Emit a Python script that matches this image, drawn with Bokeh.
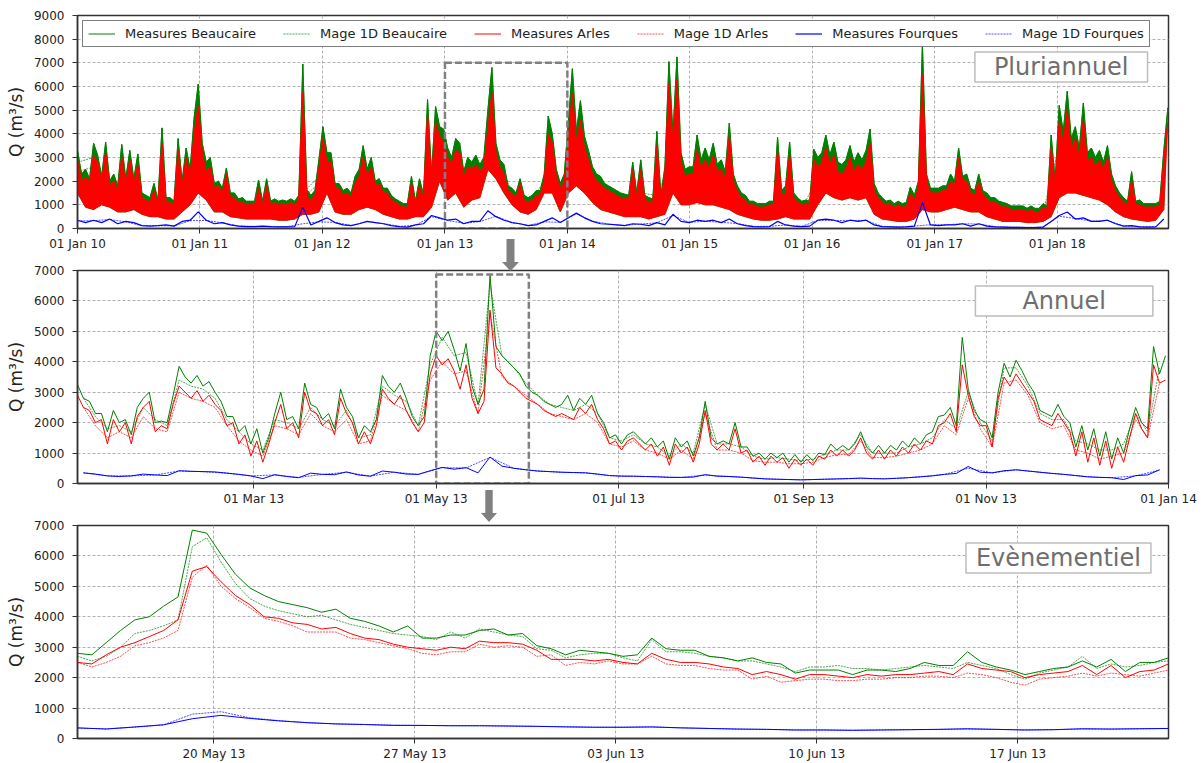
import pandas as pd
from bokeh.plotting import figure
from bokeh.layouts import column
from bokeh.models import (Range1d, FixedTicker, DatetimeTickFormatter, Legend, LegendItem,
                          Label, Div)
from bokeh.embed import file_html
from bokeh.resources import INLINE

# ---------------- Panel 1 : pluriannuel (2010-2018) ----------------
# upper envelopes of the measured discharges (12-day steps) and lower envelope (24-day steps)
p1_dates = pd.date_range("2010-01-01", periods=272, freq="12D")
p1_arles_high = [
    2900, 2000, 2200, 1900, 3100, 2800, 2000, 3200, 1800, 2000, 1600, 3000, 1900, 2900, 1900, 2700, 1300, 1200, 1100, 1600, 1000, 3600, 1100, 1100, 1000, 3300, 1800, 3000, 2200, 4000, 5200,
    3200, 2400, 2600, 1700, 1800, 1500, 2300, 1300, 1300, 1100, 1100, 1000, 1000, 1000, 1700, 1000, 1800, 1000, 1100, 1000, 1050, 1000, 1100, 1000, 1200, 5750, 1400, 1200, 1400, 2500,
    3800, 2800, 2800, 1700, 1700, 1400, 1500, 1300, 1900, 2200, 3000, 2200, 2600, 1800, 1900, 1500, 1500, 1200, 1100, 1000, 900, 900, 1900, 1000, 1800, 1200, 4800, 2000, 4500, 3900, 3700,
    3000, 2700, 3300, 3200, 2200, 2600, 2500, 2700, 2400, 2600, 4200, 5700, 3200, 2600, 2300, 1600, 1500, 1300, 1900, 1200, 1100, 1200, 1400, 1400, 2000, 4000, 3600, 2200, 1700, 2000,
    3800, 5700, 3600, 4600, 3400, 2900, 2300, 2000, 1900, 1700, 1600, 1500, 1400, 1300, 1300, 1200, 2500, 1300, 2500, 1200, 1100, 1100, 3500, 1200, 2300, 6100, 3500, 6300, 2800, 2200,
    2300, 2300, 3300, 2500, 2900, 2500, 3100, 2400, 2500, 2100, 3900, 2000, 1600, 1300, 1200, 1000, 1000, 900, 900, 900, 1000, 1000, 3300, 1400, 1500, 3100, 1300, 1100, 1000, 1000, 1000,
    2900, 2600, 2800, 3400, 2700, 3100, 2400, 2300, 2500, 3000, 2400, 2700, 2500, 2800, 3600, 1600, 1300, 1100, 1000, 1000, 900, 1000, 900, 900, 1500, 1200, 1700, 6500, 2000, 1500, 1500,
    1500, 1600, 1600, 2000, 1800, 3000, 2000, 2000, 1500, 1400, 2000, 1400, 1300, 1100, 1100, 1000, 900, 900, 800, 800, 800, 800, 700, 800, 700, 700, 900, 800, 3400, 1700,
    4500, 3600, 5000, 3300, 3800, 3000, 4600, 2800, 3000, 2600, 2900, 2500, 3000, 2000, 1600, 1300, 1100, 1000, 2000, 1000, 1000, 900, 900, 900, 900, 1000, 2800, 4500,
]
p1_beaucaire_high = [
    3300, 2300, 2500, 2100, 3600, 3100, 2200, 3650, 2000, 2300, 1800, 3550, 2100, 3300, 2100, 3150, 1500, 1400, 1300, 1900, 1200, 4250, 1300, 1300, 1150, 3800, 2000, 3400, 2500, 4700, 6100,
    3600, 2800, 3000, 1900, 2000, 1700, 2550, 1500, 1500, 1250, 1300, 1150, 1150, 1150, 2050, 1150, 2100, 1150, 1250, 1150, 1200, 1150, 1250, 1150, 1400, 6950, 1650, 1400, 1600, 2900,
    4300, 3200, 3200, 1900, 1900, 1600, 1700, 1500, 2200, 2500, 3500, 2500, 3000, 2000, 2100, 1700, 1700, 1400, 1250, 1150, 1050, 1050, 2200, 1150, 2100, 1400, 5450, 2300, 5150, 4300, 4200,
    3400, 3000, 3800, 3600, 2400, 3000, 2800, 3100, 2700, 3000, 5000, 6800, 3600, 2900, 2700, 1800, 1700, 1500, 2100, 1400, 1300, 1400, 1600, 1600, 2300, 4750, 4000, 2500, 1900, 2300,
    4500, 6750, 4100, 5400, 3900, 3300, 2600, 2300, 2200, 1900, 1800, 1700, 1600, 1500, 1450, 1400, 2800, 1500, 2900, 1400, 1300, 1250, 4100, 1400, 2600, 7050, 4000, 7250, 3200, 2500,
    2600, 2600, 3950, 2900, 3400, 2900, 3600, 2700, 2900, 2400, 4450, 2300, 1800, 1500, 1400, 1150, 1150, 1050, 1050, 1050, 1150, 1150, 3850, 1600, 1800, 3650, 1500, 1300, 1150, 1200, 1150,
    3350, 3000, 3200, 3950, 3100, 3650, 2800, 2700, 2900, 3500, 2800, 3200, 2900, 3300, 4200, 1900, 1500, 1300, 1150, 1200, 1050, 1150, 1050, 1100, 1750, 1400, 2000, 7800, 2300, 1700, 1700,
    1700, 1800, 1800, 2300, 2000, 3400, 2200, 2300, 1700, 1600, 2300, 1600, 1500, 1300, 1300, 1150, 1100, 1050, 950, 950, 950, 950, 850, 950, 850, 850, 1050, 950, 3950, 2000,
    5200, 4100, 5800, 3800, 4300, 3400, 5300, 3200, 3400, 3000, 3300, 2800, 3500, 2300, 1800, 1500, 1300, 1150, 2400, 1150, 1200, 1050, 1050, 1050, 1050, 1150, 3300, 5100,
]
p1_dates24 = pd.date_range("2010-01-01", periods=136, freq="24D")
p1_arles_low = [
    1500, 900, 800, 1000, 900, 700, 700, 800, 600, 500, 500, 400, 400, 700, 1000, 1500,
    1200, 700, 700, 500, 450, 400, 400, 400, 400, 350, 350, 400, 600, 600, 700,
    1500, 700, 600, 600, 800, 900, 800, 600, 500, 400, 400, 500, 500, 900, 2000,
    1200, 1500, 900, 1200, 1300, 2500, 2100, 1500, 1000, 700, 600, 800, 1500, 1500, 700,
    1500, 1800, 1500, 1100, 800, 700, 600, 500, 500, 500, 400, 500, 600, 1500, 1000,
    1000, 1100, 1000, 1000, 900, 800, 600, 500, 400, 350, 350, 400, 500, 400, 400,
    400, 1000, 1500, 1300, 1200, 1300, 1200, 1300, 600, 400, 350, 300, 300, 400, 800, 700,
    700, 800, 900, 800, 700, 700, 500, 400, 300, 300, 300, 250, 250, 300, 500,
    1300, 1500, 1500, 1400, 1300, 1200, 1000, 700, 500, 400, 350, 300, 350, 800,
]
p1_fourques = [
    350, 250, 350, 250, 400, 200, 300, 250, 120, 100, 120, 150, 100, 300, 350, 700,
    350, 200, 250, 150, 100, 80, 80, 100, 80, 70, 70, 80, 900, 150, 300,
    450, 250, 150, 120, 200, 300, 250, 200, 120, 80, 60, 150, 200, 550, 450,
    350, 400, 200, 300, 300, 750, 500, 350, 250, 200, 120, 150, 300, 450, 250,
    450, 650, 450, 300, 200, 180, 150, 120, 200, 180, 120, 250, 150, 600, 300,
    250, 350, 300, 350, 250, 400, 200, 120, 80, 70, 80, 300, 150, 100, 80,
    100, 350, 400, 350, 250, 350, 300, 350, 150, 80, 70, 60, 70, 100, 1100, 150,
    120, 150, 150, 200, 100, 200, 100, 70, 60, 50, 50, 40, 40, 60, 300,
    550, 700, 400, 450, 300, 300, 350, 200, 100, 120, 70, 60, 70, 400,
]
p1_mage_dates = pd.date_range("2010-01-01", periods=68, freq="48D")
p1_mage_beaucaire = [
    2800, 3000, 1600, 2000, 1000, 700, 800, 1800,
    2000, 1400, 900, 800, 800, 700, 1500, 2200,
    1600, 1100, 2200, 1300, 800, 1000, 2500,
    2400, 1700, 2300, 3200, 1500, 1000, 2000, 1800,
    3300, 2000, 1300, 1100, 1500, 1400, 3000, 2200,
    2600, 2200, 1400, 800, 700, 1500, 800,
    2200, 2800, 2300, 2600, 900, 700, 900, 1300,
    1300, 1800, 1500, 900, 600, 550, 700,
    3500, 3200, 2600, 2500, 900, 700, 800,
]
p1_mage_arles = [
    2400, 2600, 1350, 1700, 850, 600, 700, 1550,
    1700, 1200, 750, 700, 700, 600, 1300, 1900,
    1350, 950, 1900, 1100, 700, 850, 2150,
    2050, 1450, 2000, 2800, 1300, 850, 1700, 1550,
    2800, 1700, 1100, 950, 1300, 1200, 2600, 1900,
    2200, 1900, 1200, 700, 600, 1300, 700,
    1900, 2400, 2000, 2200, 800, 600, 750, 1100,
    1100, 1550, 1300, 750, 500, 450, 600,
    3000, 2700, 2200, 2100, 750, 600, 700,
]
p1_mage_fourques = [
    320, 330, 380, 280, 120, 120, 110, 330,
    340, 240, 110, 90, 90, 80, 200, 280,
    260, 130, 290, 210, 90, 140, 500,
    340, 220, 290, 520, 250, 130, 280, 260,
    620, 310, 190, 130, 190, 240, 550, 260,
    310, 260, 210, 90, 90, 150, 90,
    340, 340, 340, 340, 90, 70, 100, 160,
    160, 200, 190, 80, 60, 50, 60,
    520, 420, 310, 340, 110, 80, 80,
]
p1_ticks = ["2010-01-01", "2011-01-01", "2012-01-01", "2013-01-01", "2014-01-01",
            "2015-01-01", "2016-01-01", "2017-01-01", "2018-01-01"]

# ---------------- Panel 2 : annuel (2013) ----------------
p2_dates = pd.date_range("2013-01-01", periods=183, freq="2D")
p2_arles = [
    2900, 2500, 2400, 2000, 2100, 1300, 2100, 1700, 2000, 1300,
    2200, 2500, 2700, 1700, 1900, 1800, 2600, 3200, 3000, 2800,
    3050, 2700, 2900, 2600, 2400, 1900, 2000, 1300, 1600, 900,
    1400, 700, 1300, 2000, 2600, 1800, 2000, 1500, 3000, 2400,
    2300, 1900, 2100, 1600, 2800, 2300, 2000, 1300, 1700, 1300,
    1900, 3100, 2800, 2600, 2900, 2400, 2000, 1700, 2000, 3600,
    4200, 3900, 4100, 3700, 3100, 3900, 2800, 2300, 2700, 5700,
    3800, 3600, 3300, 3200, 3000, 2800, 2700, 2600, 2400, 2300,
    2200, 2300, 2200, 2100, 2500, 2300, 2600, 2100, 1800, 1300,
    1400, 1100, 1400, 1500, 1300, 1100, 1300, 900, 1200, 600,
    1300, 1000, 1200, 700, 1300, 2400, 1300, 1100, 1300, 1100,
    1800, 1000, 1100, 700, 900, 600, 900, 700, 850, 500,
    800, 600, 800, 600, 900, 800, 1100, 900, 1100, 900,
    1100, 1500, 1000, 800, 1100, 800, 1100, 900, 1200, 1000,
    1300, 1100, 1400, 1300, 1900, 2000, 2300, 1700, 3900, 2900,
    2200, 1900, 1900, 1200, 2800, 3500, 3200, 3600, 3300, 3000,
    2700, 2100, 2000, 1900, 2300, 2000, 1700, 900, 1700, 700,
    1500, 600, 1400, 500, 1200, 700, 1500, 2300, 1800, 1500,
    3900, 3300, 3400,
]
p2_beaucaire = [
    3250, 2800, 2700, 2300, 2300, 1700, 2400, 2000, 2100, 1600,
    2500, 2800, 3000, 2000, 2050, 2000, 2900, 3850, 3500, 3300,
    3550, 3200, 3350, 3000, 2700, 2200, 2200, 1700, 1900, 1300,
    1800, 1000, 1500, 2300, 3000, 2100, 2200, 1800, 3300, 2600,
    2500, 2100, 2300, 1800, 3100, 2500, 2200, 1500, 1900, 1700,
    2100, 3550, 3200, 3000, 3300, 2800, 2200, 1900, 2200, 4200,
    5000, 4700, 5000, 4400, 3700, 4600, 3200, 2600, 3100, 6850,
    4500, 4200, 4000, 3800, 3600, 3200, 3000, 2900, 2700, 2600,
    2500, 2600, 2900, 2400, 2800, 2600, 2900, 2300, 2000, 1500,
    1600, 1300, 1600, 1700, 1500, 1300, 1500, 1200, 1400, 800,
    1500, 1200, 1400, 900, 1500, 2700, 1500, 1300, 1400, 1300,
    2000, 1200, 1200, 900, 1000, 800, 1000, 850, 1000, 700,
    950, 700, 950, 750, 1000, 950, 1300, 1100, 1250, 1100,
    1300, 1700, 1200, 1000, 1250, 1000, 1250, 1100, 1400, 1200,
    1500, 1300, 1600, 1700, 2200, 2250, 2500, 1900, 4800, 3100,
    2400, 2100, 2000, 1500, 3000, 3950, 3500, 4050, 3700, 3300,
    3000, 2400, 2300, 2200, 2600, 2200, 2000, 1200, 1900, 1100,
    1800, 900, 1700, 800, 1500, 1000, 1800, 2500, 2000, 1800,
    4500, 3600, 4200,
]
p2_dates4 = pd.date_range("2013-01-03", periods=91, freq="4D")
p2_mage_beaucaire = [
    2800, 2200, 1800, 1900, 1700, 2500, 2100, 1900, 3400, 3200,
    3100, 2800, 2100, 1700, 1300, 1100, 2100, 2000, 1800, 2500,
    2100, 1900, 2400, 1500, 1600, 3200, 2900, 2700, 1900, 3900,
    4800, 4200, 4300, 2600, 6550, 4200, 3800, 3300, 2900, 2600,
    2500, 2400, 2600, 2300, 1500, 1400, 1600, 1300, 1200, 900,
    1300, 1000, 2600, 1300, 1300, 1200, 900, 800, 850, 800,
    750, 800, 950, 1100, 1100, 1600, 1000, 1000, 1000, 1200,
    1300, 1500, 2100, 1800, 3000, 2000, 1400, 3800, 3800, 3200,
    2300, 2100, 2100, 1400, 1300, 1100, 1100, 1300, 2300, 1700,
    3800,
]
p2_mage_arles = [
    2500, 1900, 1500, 1700, 1500, 2200, 1800, 1700, 3000, 2800,
    2700, 2500, 1900, 1400, 1100, 900, 1900, 1800, 1600, 2300,
    1900, 1700, 2100, 1300, 1400, 2900, 2600, 2400, 1700, 3400,
    4000, 3600, 3700, 2300, 5600, 3500, 3200, 2900, 2600, 2300,
    2200, 2100, 2300, 2000, 1300, 1200, 1400, 1100, 1000, 800,
    1100, 800, 2300, 1100, 1100, 1000, 750, 700, 700, 650,
    650, 700, 850, 950, 950, 1400, 850, 850, 900, 1000,
    1100, 1300, 1900, 1600, 2800, 1800, 1200, 3300, 3400, 2900,
    2000, 1800, 1900, 1100, 1000, 800, 900, 1000, 2100, 1500,
    3300,
]
p2_fourques = [
    350, 310, 250, 230, 250, 310, 280, 260, 420, 400,
    390, 380, 340, 300, 250, 160, 290, 230, 190, 340,
    300, 290, 380, 280, 240, 410, 370, 310, 300, 420,
    530, 470, 520, 350, 870, 570, 500, 450, 410, 390,
    370, 360, 350, 310, 260, 240, 240, 230, 220, 200,
    200, 210, 290, 240, 230, 210, 180, 150, 140, 130,
    120, 130, 140, 150, 160, 180, 160, 150, 170, 190,
    220, 250, 300, 330, 560, 370, 350, 420, 450, 410,
    370, 330, 300, 260, 220, 200, 190, 130, 260, 280,
    450,
]
p2_dates8 = pd.date_range("2013-01-03", periods=46, freq="8D")
p2_mage_fourques = [
    350, 250, 250, 280, 410, 390, 340, 250, 280, 200,
    300, 370, 240, 370, 300, 520, 510, 860, 500, 410,
    370, 350, 260, 240, 220, 200, 280, 230, 180, 140,
    120, 140, 160, 160, 170, 220, 300, 500, 350, 450,
    370, 300, 220, 190, 250, 440,
]
p2_ticks = ["2013-03-01", "2013-05-01", "2013-07-01", "2013-09-01", "2013-11-01", "2014-01-01"]

# ---------------- Panel 3 : evenementiel (May-June 2013) ----------------
p3_dates = pd.date_range("2013-05-15 06:00", periods=77, freq="12h")
p3_beaucaire = [
    2800, 2750, 3150, 3550, 3900, 4000, 4350, 4650, 6850, 6750,
    6050, 5400, 4950, 4700, 4500, 4400, 4300, 4150, 4250, 3950,
    3850, 3700, 3500, 3700, 3300, 3300, 3400, 3400, 3550, 3600,
    3400, 3450, 3050, 2950, 2750, 2900, 2850, 2800, 2700, 2750,
    3300, 2950, 2900, 2900, 2700, 2650, 2550, 2650, 2500, 2450,
    2150, 2250, 2250, 2250, 2100, 2250, 2250, 2200, 2300, 2500,
    2400, 2400, 2850, 2500, 2350, 2250, 2100, 2200, 2300, 2350,
    2550, 2350, 2600, 2200, 2500, 2500, 2650,
]
p3_mage_beaucaire = [
    2700, 2550, 2700, 3000, 3450, 3550, 3700, 3900, 6300, 6600,
    5800, 5100, 4600, 4350, 4200, 4100, 4000, 4050, 3900, 3750,
    3650, 3550, 3450, 3400, 3350, 3250, 3500, 3300, 3600, 3500,
    3400, 3350, 2950, 2900, 2650, 2750, 2800, 2800, 2650, 2550,
    3250, 2850, 2850, 2800, 2700, 2650, 2550, 2550, 2450, 2350,
    2200, 2350, 2350, 2400, 2300, 2300, 2250, 2300, 2350, 2400,
    2350, 2300, 2500, 2400, 2300, 2100, 1950, 2150, 2250, 2350,
    2700, 2300, 2450, 2350, 2400, 2500, 2550,
]
p3_arles = [
    2500, 2450, 2750, 3000, 3150, 3350, 3550, 3900, 5500, 5650,
    5150, 4700, 4400, 4000, 3950, 3800, 3750, 3600, 3650, 3450,
    3300, 3250, 3100, 3000, 2950, 2900, 3000, 2950, 3200, 3150,
    3150, 3100, 2900, 2600, 2600, 2600, 2550, 2600, 2500, 2450,
    2800, 2600, 2500, 2500, 2450, 2350, 2300, 2100, 2200, 2100,
    1950, 2100, 2100, 2050, 2000, 2100, 2050, 2100, 2100, 2150,
    2200, 2100, 2450, 2300, 2250, 2200, 2000, 2100, 2150, 2200,
    2400, 2100, 2400, 2000, 2200, 2250, 2450,
]
p3_mage_arles = [
    2500, 2350, 2500, 2700, 3050, 3150, 3300, 3550, 5300, 5700,
    5000, 4600, 4300, 3950, 3850, 3700, 3500, 3500, 3500, 3300,
    3250, 3150, 3050, 2950, 2800, 2750, 2850, 2850, 3100, 3000,
    3050, 3000, 2700, 2750, 2400, 2500, 2450, 2550, 2450, 2450,
    2700, 2450, 2400, 2400, 2300, 2250, 2250, 1950, 2050, 1850,
    1900, 1950, 1950, 1900, 1900, 1950, 1950, 2000, 2000, 2050,
    2050, 2000, 2150, 2100, 2000, 1850, 1750, 1950, 2000, 2050,
    2150, 2050, 2150, 2100, 2050, 2150, 2250,
]
p3_fq_dates = pd.date_range("2013-05-15 06:00", periods=39, freq="D")
p3_fourques = [
    350, 310, 380, 450, 650, 760, 660, 580, 520, 480,
    460, 430, 430, 420, 420, 410, 400, 380, 370, 370,
    380, 350, 330, 310, 300, 280, 280, 270, 280, 290,
    300, 320, 300, 280, 290, 320, 310, 320, 330,
]
p3_mage_fourques = [
    340, 320, 370, 450, 800, 880, 680, 590, 520, 480,
    460, 440, 430, 420, 420, 410, 400, 390, 370, 370,
    380, 350, 330, 310, 300, 280, 280, 270, 280, 290,
    300, 310, 300, 280, 290, 310, 310, 320, 330,
]
p3_ticks = ["2013-05-20", "2013-05-27", "2013-06-03", "2013-06-10", "2013-06-17"]

series_names = ["Measures Beaucaire", "Mage 1D Beaucaire", "Measures Arles",
                "Mage 1D Arles", "Measures Fourques", "Mage 1D Fourques"]

# ---------------- styling helpers ----------------
GREEN, RED, BLUE, GREY = "#008000", "#ff0000", "#0000ff", "#808080"
FONT = "DejaVu Sans"
W = 1200
LEFT = 77
FRAME_W = 1091
DASH = "2 1"


def ms(s):
    return pd.Timestamp(s).value / 1e6


def ms_list(idx):
    return [t.value / 1e6 for t in idx]


def make_fig(height, x0, x1, ymax, ticks, top, bottom):
    p = figure(width=W, height=height, x_axis_type="datetime",
               x_range=Range1d(ms(x0), ms(x1)), y_range=Range1d(0, ymax),
               output_backend="svg", toolbar_location=None,
               min_border_left=LEFT, min_border_right=W - LEFT - FRAME_W,
               min_border_top=top, min_border_bottom=bottom)
    p.background_fill_color = "white"
    p.border_fill_color = "white"
    p.outline_line_color = "#333333"
    p.outline_line_width = 1.5
    p.xaxis.ticker = FixedTicker(ticks=[ms(t) for t in ticks])
    fmt = "%d %b %y"
    p.xaxis.formatter = DatetimeTickFormatter(hours=fmt, days=fmt, months=fmt, years=fmt)
    p.yaxis.ticker = FixedTicker(ticks=list(range(0, ymax + 1, 1000)))
    for ax in (p.xaxis[0], p.yaxis[0]):
        ax.axis_line_color = "#333333"
        ax.axis_line_width = 1.5
        ax.major_tick_line_color = "#333333"
        ax.major_tick_out = 5
        ax.major_tick_in = 0
        ax.minor_tick_line_color = None
        ax.major_label_text_font = FONT
        ax.major_label_text_font_size = "12px"
        ax.major_label_text_color = "#222222"
    p.xaxis.major_label_standoff = 3
    p.yaxis.major_label_standoff = 8
    p.yaxis.axis_label = "Q (m³/s)"
    p.yaxis.axis_label_text_font = FONT
    p.yaxis.axis_label_text_font_size = "17px"
    p.yaxis.axis_label_text_font_style = "normal"
    p.yaxis.axis_label_text_color = "#222222"
    p.yaxis.axis_label_standoff = 5
    for g in (p.xgrid[0], p.ygrid[0]):
        g.grid_line_color = "#b0b0b0"
        g.grid_line_dash = "3 2"
        g.grid_line_width = 1
    return p


def add_series(p, d_meas_b, v_meas_b, d_mage_b, v_mage_b, d_meas_a, v_meas_a, d_mage_a, v_mage_a,
               d_meas_f, v_meas_f, d_mage_f, v_mage_f):
    r = []
    r.append(p.line(d_meas_b, v_meas_b, line_color=GREEN, line_width=1))
    r.append(p.line(d_mage_b, v_mage_b, line_color=GREEN, line_width=1, line_dash=DASH, line_alpha=0.7))
    r.append(p.line(d_meas_a, v_meas_a, line_color=RED, line_width=1))
    r.append(p.line(d_mage_a, v_mage_a, line_color=RED, line_width=1, line_dash=DASH, line_alpha=0.7))
    r.append(p.line(d_meas_f, v_meas_f, line_color=BLUE, line_width=1))
    r.append(p.line(d_mage_f, v_mage_f, line_color=BLUE, line_width=1, line_dash=DASH, line_alpha=0.7))
    return r


def zoom_box(p, x0, x1, y0, y1):
    p.quad(left=[ms(x0)], right=[ms(x1)], bottom=[y0], top=[y1], fill_alpha=0,
           line_color=GREY, line_width=2.5, line_dash="7 3")


def title_box(p, x, y, text, padx):
    p.add_layout(Label(x=ms(x), y=y, text=text, text_align="center", text_baseline="middle",
                       text_font=FONT, text_font_size="24px", text_color="#6e6e6e",
                       background_fill_color="white", background_fill_alpha=1,
                       border_line_color="#bdbdbd", border_line_width=1.5,
                       padding=dict(left=padx, right=padx, top=1, bottom=1)))


def arrow_svg(left, top, w, h, shaft_half, base):
    cx = w / 2.0
    pts = [(cx - shaft_half, 0), (cx + shaft_half, 0), (cx + shaft_half, base), (w, base),
           (cx, h), (0, base), (cx - shaft_half, base)]
    ptxt = " ".join("%.1f,%.1f" % q for q in pts)
    return ('<svg style="position:absolute;left:%dpx;top:%dpx;z-index:20;overflow:visible" '
            'width="%d" height="%d"><polygon points="%s" fill="%s"/></svg>'
            % (left, top, w, h, ptxt, GREY))


# ---------------- Panel 1 ----------------
p1 = make_fig(263, "2010-01-01", "2018-11-29", 9000, p1_ticks, 15, 35)
x_hi = ms_list(p1_dates)
x_lo = ms_list(p1_dates24)
p1.patch(x_hi + x_lo[::-1], p1_beaucaire_high + p1_arles_low[::-1],
         fill_color=GREEN, line_color=GREEN, line_width=0.8)
r_bc = p1.line(p1_dates, p1_beaucaire_high, line_color=GREEN, line_width=1)
r_mb = p1.line(p1_mage_dates, p1_mage_beaucaire, line_color=GREEN, line_width=1, line_dash=DASH, line_alpha=0.7)
p1.patch(x_hi + x_lo[::-1], p1_arles_high + p1_arles_low[::-1],
         fill_color=RED, line_color=RED, line_width=0.8)
r_ar = p1.line(p1_dates, p1_arles_high, line_color=RED, line_width=1)
r_ma = p1.line(p1_mage_dates, p1_mage_arles, line_color=RED, line_width=1, line_dash=DASH, line_alpha=0.7)
r_fq = p1.line(p1_dates24, p1_fourques, line_color=BLUE, line_width=1.2)
r_mf = p1.line(p1_mage_dates, p1_mage_fourques, line_color=BLUE, line_width=1, line_dash=DASH, line_alpha=0.7)
r1 = [r_bc, r_mb, r_ar, r_ma, r_fq, r_mf]
zoom_box(p1, "2013-01-01", "2014-01-01", 0, 7000)
title_box(p1, "2018-01-13", 6822, "Pluriannuel", 19)
legend = Legend(items=[LegendItem(label=n, renderers=[r]) for n, r in zip(series_names, r1)],
                orientation="horizontal", location="top_left", margin=5,
                padding=5, spacing=27, glyph_width=27, glyph_height=13, label_height=13,
                label_standoff=10, label_text_font=FONT, label_text_font_size="13px",
                label_text_color="#222222", border_line_color="black", border_line_width=1.3,
                background_fill_color="white", background_fill_alpha=1)
p1.add_layout(legend)

# ---------------- Panel 2 ----------------
p2 = make_fig(255, "2013-01-01", "2014-01-01", 7000, p2_ticks, 7, 35)
add_series(p2, p2_dates, p2_beaucaire, p2_dates4, p2_mage_beaucaire,
           p2_dates, p2_arles, p2_dates4, p2_mage_arles,
           p2_dates4, p2_fourques, p2_dates8, p2_mage_fourques)
zoom_box(p2, "2013-05-01", "2013-06-01", 0, 6870)
title_box(p2, "2013-11-27 02:00", 5995, "Annuel", 47)

# ---------------- Panel 3 ----------------
p3 = make_fig(245, "2013-05-15 06:00", "2013-06-22 06:00", 7000, p3_ticks, 7, 25)
add_series(p3, p3_dates, p3_beaucaire, p3_dates, p3_mage_beaucaire,
           p3_dates, p3_arles, p3_dates, p3_mage_arles,
           p3_fq_dates, p3_fourques, p3_fq_dates, p3_mage_fourques)
title_box(p3, "2013-06-18 10:00", 5930, "Evènementiel", 10)

# grey zoom arrows between the panels
arrows = Div(text=arrow_svg(497, 234, 17, 32, 4, 23) + arrow_svg(476, 485, 16, 32, 3.7, 23),
             styles={"position": "absolute", "left": "0px", "top": "0px", "z-index": "20",
                     "overflow": "visible"})

layout = column(p1, p2, p3, arrows, spacing=0)
open("out.html", "w").write(file_html(layout, INLINE, "Débits"))
